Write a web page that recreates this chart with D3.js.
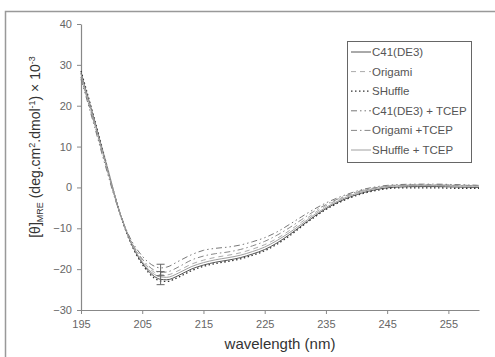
<!DOCTYPE html>
<html><head><meta charset="utf-8">
<script src="https://cdn.jsdelivr.net/npm/d3@7"></script>
<style>body{margin:0;background:#fff}svg{display:block;font-family:"Liberation Sans",Arial,sans-serif}</style>
</head><body><svg id="c" width="495" height="357"></svg>
<script>
const wavelengths = [195,197,199,201,203,205,207,208,209,211,213,215,217,219,221,223,225,227,229,231,233,235,237,239,241,243,245,247,250,253,256,260];
const c41 = [28,17.5,6.5,-4.5,-13,-18.5,-21.8,-22.5,-22.6,-21.5,-20,-19,-18.3,-17.8,-17.2,-16.3,-15.2,-13.6,-11.6,-9.4,-7.2,-5.2,-3.6,-2.3,-1.3,-0.6,-0.1,0.1,0.2,0.2,0.1,0.0];
const origami = [27,16.5,5.8,-4.8,-12.8,-17.8,-20.8,-21.4,-21.4,-20.3,-18.8,-17.8,-17.1,-16.6,-16.0,-15.1,-14.0,-12.5,-10.6,-8.5,-6.4,-4.5,-3.0,-1.8,-0.8,-0.1,0.4,0.6,0.7,0.7,0.6,0.5];
const shuffle = [28.5,17.8,6.6,-4.6,-13.2,-18.8,-22.2,-22.9,-23.0,-21.9,-20.4,-19.3,-18.6,-18.1,-17.5,-16.6,-15.5,-13.9,-11.9,-9.6,-7.4,-5.4,-3.8,-2.5,-1.5,-0.8,-0.3,-0.1,-0.1,-0.1,-0.2,-0.2];
const c41Tcep = [26.5,16,5.2,-4.8,-12.3,-16.8,-19.3,-19.7,-19.5,-18.0,-16.5,-15.4,-14.9,-14.6,-14.1,-13.3,-12.3,-10.9,-9.1,-7.2,-5.4,-3.8,-2.5,-1.4,-0.5,0.1,0.5,0.7,0.8,0.8,0.7,0.5];
const origamiTcep = [27,16.8,6,-4.5,-12.6,-17.5,-20.3,-20.8,-20.7,-19.4,-17.8,-16.8,-16.2,-15.8,-15.2,-14.3,-13.2,-11.7,-9.9,-7.9,-5.9,-4.2,-2.8,-1.6,-0.7,-0.1,0.3,0.5,0.6,0.6,0.5,0.4];
const shuffleTcep = [27.8,17.2,6.3,-4.6,-12.9,-18.2,-21.3,-21.9,-22.0,-20.9,-19.4,-18.4,-17.7,-17.2,-16.6,-15.7,-14.6,-13.0,-11.1,-9.0,-6.8,-4.9,-3.3,-2.0,-1.0,-0.3,0.2,0.4,0.5,0.5,0.4,0.3];
const seriesNames = ["C41(DE3)","Origami","SHuffle","C41(DE3) + TCEP","Origami +TCEP","SHuffle + TCEP"];
const errWave = [208, 208];
const errLow = [-23.8, -21.6];
const errHigh = [-20.6, -18.8];
const xTicks = [195,205,215,225,235,245,255];
const yTicks = [40,30,20,10,0,-10,-20,-30];

const seriesData = [c41, origami, shuffle, c41Tcep, origamiTcep, shuffleTcep];
const styles = [
  {stroke:"#555", dash:null, w:1},
  {stroke:"#aaa", dash:"5,4", w:1},
  {stroke:"#333", dash:"1.5,2.5", w:1.3},
  {stroke:"#777", dash:"6,3,1.5,3,1.5,3", w:1},
  {stroke:"#888", dash:"6,3,1.5,3", w:1},
  {stroke:"#a0a0a0", dash:null, w:1}
];

const svg = d3.select("#c");
svg.append("rect").attr("x",5.5).attr("y",11.5).attr("width",500).attr("height",360)
  .attr("fill","none").attr("stroke","#999").attr("stroke-width",1.5);

const x = d3.scaleLinear().domain([195,260]).range([81,479]);
const y = d3.scaleLinear().domain([-30,40]).range([310,24]);

const xAxis = svg.append("g").attr("transform","translate(0,310)")
  .call(d3.axisBottom(x).tickValues(xTicks).tickSize(4).tickSizeOuter(0).tickPadding(6));
const yAxis = svg.append("g").attr("transform","translate(81,0)")
  .call(d3.axisLeft(y).tickValues(yTicks).tickSize(4).tickSizeOuter(0).tickPadding(5));
[xAxis,yAxis].forEach(a=>{
  a.select(".domain").attr("stroke","#888").attr("stroke-width",1.2);
  a.selectAll(".tick line").attr("stroke","#888");
  a.selectAll(".tick text").attr("fill","#666").style("font-size","11px").style("font-family","Liberation Sans, Arial, sans-serif");
});

const line = d3.line().x((d,i)=>x(wavelengths[i])).y(d=>y(d)).curve(d3.curveMonotoneX);
seriesData.forEach((s,k)=>{
  svg.append("path").attr("d",line(s)).attr("fill","none")
    .attr("stroke",styles[k].stroke).attr("stroke-width",styles[k].w)
    .attr("stroke-dasharray",styles[k].dash);
});

errWave.forEach((w,i)=>{
  const g = svg.append("g").attr("stroke","#666").attr("stroke-width",1);
  g.append("line").attr("x1",x(w)).attr("x2",x(w)).attr("y1",y(errLow[i])).attr("y2",y(errHigh[i]));
  [errLow[i],errHigh[i]].forEach(v=>g.append("line").attr("x1",x(w)-4).attr("x2",x(w)+4).attr("y1",y(v)).attr("y2",y(v)));
});

// legend
const lg = svg.append("g");
lg.append("rect").attr("x",347.5).attr("y",41.5).attr("width",124).attr("height",121)
  .attr("fill","#fff").attr("stroke","#666").attr("stroke-width",1);
seriesNames.forEach((n,k)=>{
  const yy = 52 + k*19.6;
  lg.append("line").attr("x1",351).attr("x2",371).attr("y1",yy).attr("y2",yy)
    .attr("stroke",styles[k].stroke).attr("stroke-width",styles[k].w).attr("stroke-dasharray",styles[k].dash);
  lg.append("text").attr("x",372).attr("y",yy+4).text(n).attr("fill","#555").style("font-size","11.5px");
});

svg.append("text").attr("x",280).attr("y",349).attr("text-anchor","middle")
  .attr("fill","#333").style("font-size","15px").text("wavelength (nm)");

const yt = svg.append("text").attr("transform","translate(40,147) rotate(-90)").attr("text-anchor","middle")
  .attr("fill","#333").style("font-size","14px");
yt.append("tspan").text("[θ]");
yt.append("tspan").text("MRE").style("font-size","9px").attr("dy",3);
yt.append("tspan").text(" (deg.cm").attr("dy",-3);
yt.append("tspan").text("2").style("font-size","9px").attr("dy",-5);
yt.append("tspan").text(".dmol").attr("dy",5);
yt.append("tspan").text("-1").style("font-size","9px").attr("dy",-5);
yt.append("tspan").text(") × 10").attr("dy",5);
yt.append("tspan").text("-3").style("font-size","9px").attr("dy",-5);
</script></body></html>
